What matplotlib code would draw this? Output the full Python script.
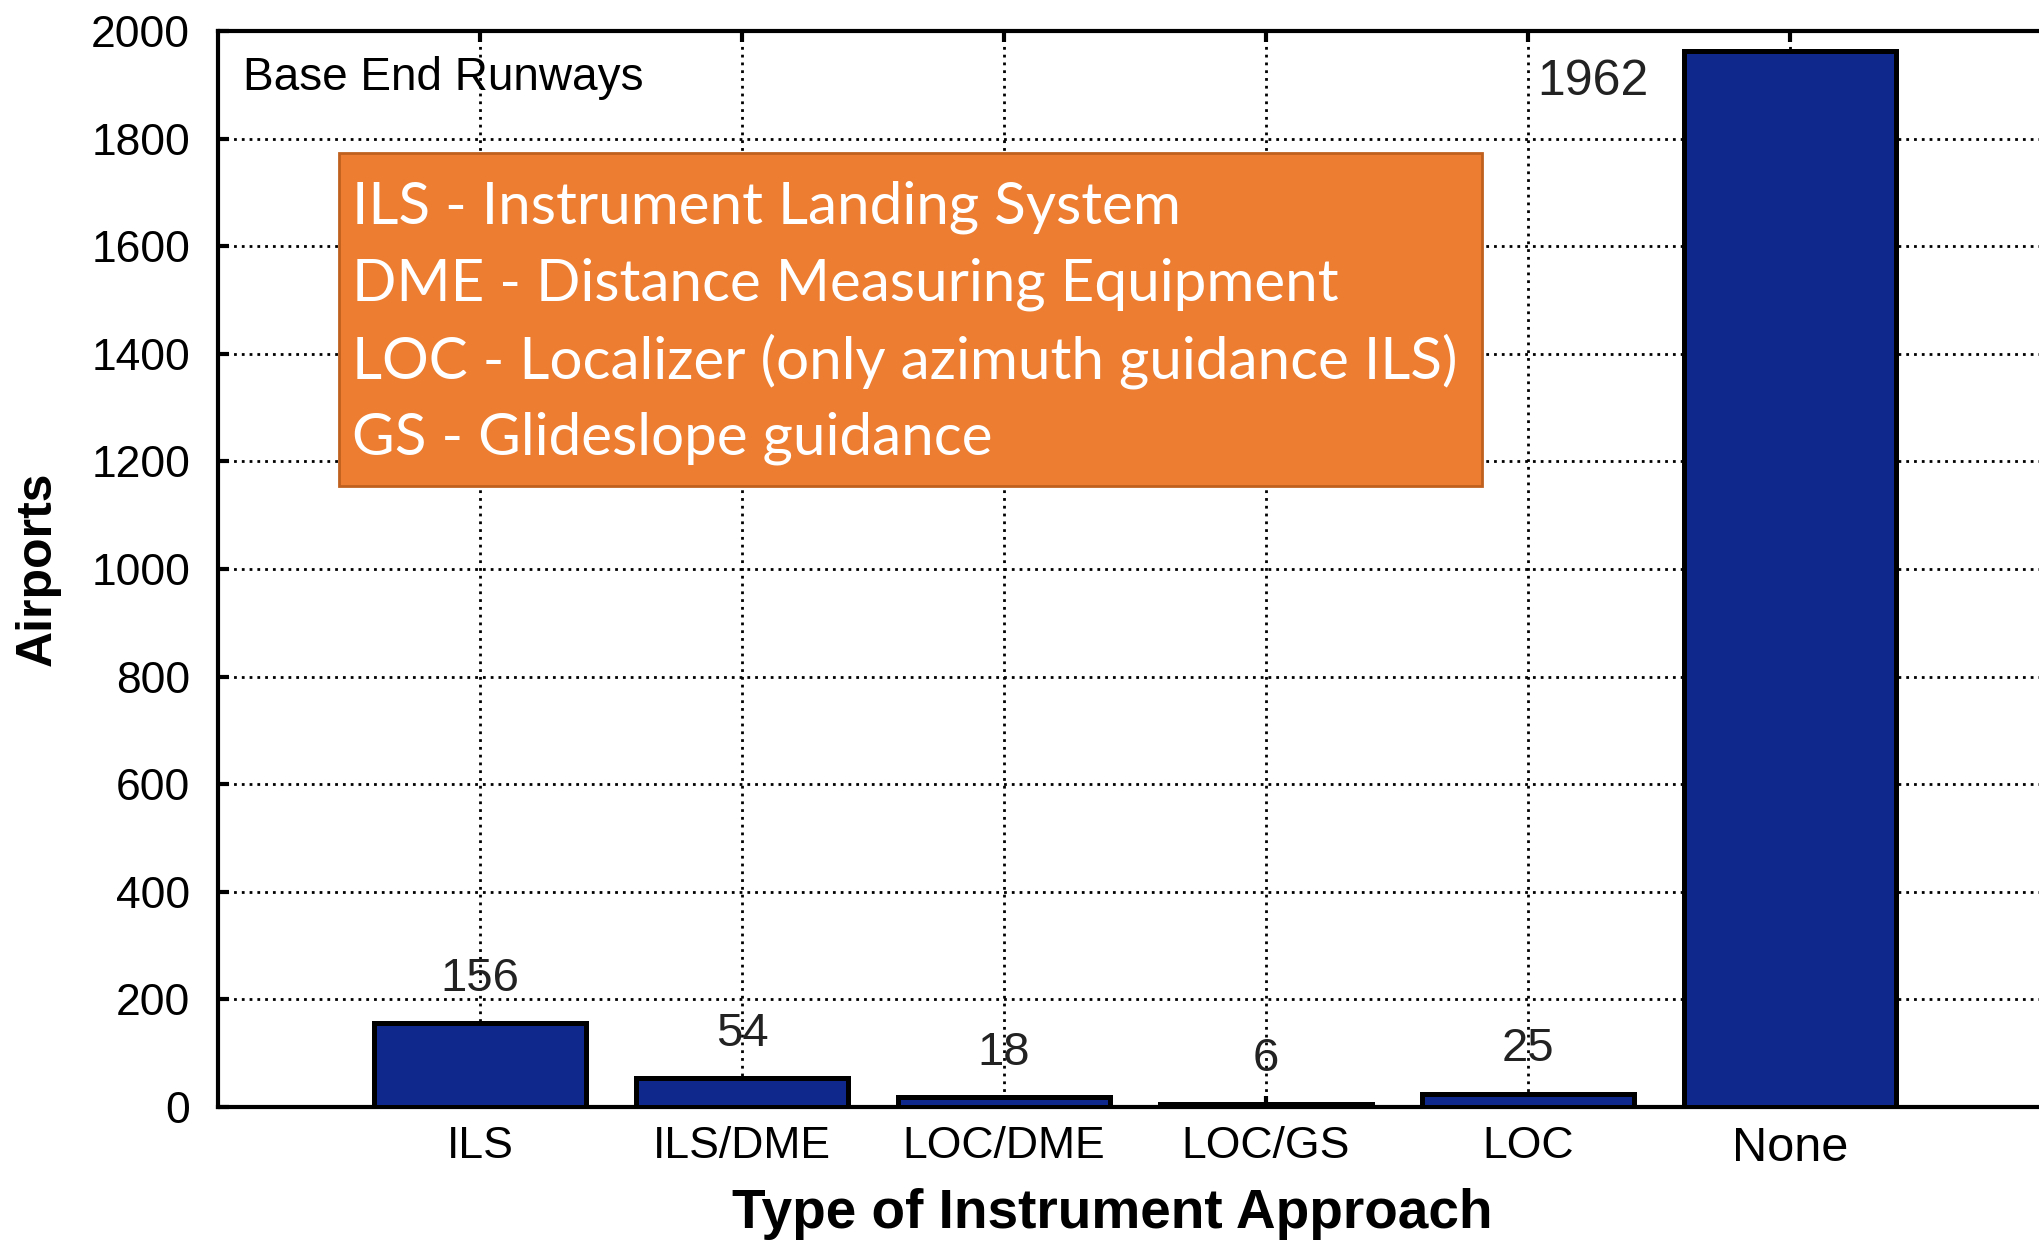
import matplotlib
matplotlib.use("Agg")
import matplotlib.pyplot as plt
from matplotlib.patches import Rectangle

# data
approach_types = ['ILS', 'ILS/DME', 'LOC/DME', 'LOC/GS', 'LOC', 'None']
airports = [156, 54, 18, 6, 25, 1962]
yticks = [0, 200, 400, 600, 800, 1000, 1200, 1400, 1600, 1800, 2000]
legend_lines = [
    'ILS - Instrument Landing System',
    'DME - Distance Measuring Equipment',
    'LOC - Localizer (only azimuth guidance ILS)',
    'GS - Glideslope guidance',
]

W, H, DPI = 2039, 1256, 200
fig = plt.figure(figsize=(W / DPI, H / DPI), dpi=DPI)
ax = fig.add_axes([218 / W, 1 - 1107 / H, (2052 - 218) / W, (1107 - 31) / H])

tick_font = 'Liberation Sans'
bar_color = '#0f288c'

x = list(range(len(approach_types)))
ax.bar(x, airports, width=0.81, color=bar_color, edgecolor='black',
       linewidth=1.8, zorder=3)

ax.set_xlim(-1, 6)
ax.set_ylim(0, 2000)
ax.set_xticks(x)
ax.set_xticklabels(approach_types, fontfamily=tick_font, fontsize=16)
ax.get_xticklabels()[-1].set_fontsize(17.5)
ax.set_yticks(yticks)
ax.set_yticklabels([str(v) for v in yticks], fontfamily=tick_font, fontsize=16)

ax.tick_params(direction='in', length=4, width=1.5, top=True, right=True)
ax.tick_params(axis='y', pad=10)
ax.tick_params(axis='x', pad=7)
for s in ax.spines.values():
    s.set_linewidth(1.5)

ax.grid(True, color='black', linestyle=(0, (1, 1.8)), linewidth=1.0, zorder=1)
ax.set_axisbelow(True)

ax.set_xlabel('Type of Instrument Approach', fontsize=19.8, fontweight='bold',
              fontfamily='Liberation Sans', labelpad=8)
ax.xaxis.set_label_coords(0.4875, -0.075)
ax.set_ylabel('Airports', fontsize=18, fontweight='bold',
              fontfamily='Liberation Sans', labelpad=11)

ax.text(0.0136, 0.956, 'Base End Runways', transform=ax.transAxes,
        fontsize=16.5, fontfamily=tick_font, ha='left', va='center', zorder=5)

# value labels
for xi, v in zip(x[:-1], airports[:-1]):
    ax.annotate(str(v), (xi, v), xytext=(0, 16), textcoords='offset points',
                ha='center', va='center', fontsize=17, fontfamily=tick_font,
                color='#222222', zorder=5)
ax.annotate(str(airports[-1]), (x[-1], airports[-1]), xytext=(-71, -11),
            textcoords='offset points', ha='center', va='center',
            fontsize=18, fontfamily=tick_font, color='#222222', zorder=5)

# orange legend box
box = Rectangle((339 / W, 1 - 486 / H), (1482 - 339) / W, (486 - 153) / H,
                transform=fig.transFigure, facecolor='#ed7d31',
                edgecolor='#c0601e', linewidth=1.0, zorder=10)
fig.patches.append(box)
for i, line in enumerate(legend_lines):
    fig.text(352 / W, 1 - (207 + i * 77) / H, line, color='white',
             fontsize=21, fontfamily='Lato', ha='left', va='center', zorder=11)

fig.savefig('out.png', dpi=DPI)
